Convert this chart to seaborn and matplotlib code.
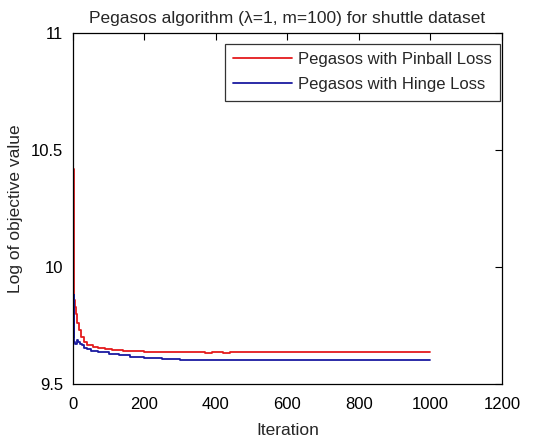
import matplotlib
matplotlib.use("Agg")
import matplotlib.pyplot as plt
import seaborn as sns
import pandas as pd

# Data (breakpoints of the step-like curves)
pinball_iter = [1, 2, 3, 4, 6, 8, 12, 16, 22, 30, 40, 55, 70, 90, 110, 140, 170, 200, 250, 300, 370, 390, 420, 440, 1000]
pinball_val = [10.42, 9.92, 9.90, 9.86, 9.83, 9.80, 9.76, 9.73, 9.70, 9.68, 9.665, 9.657, 9.652, 9.648, 9.645, 9.642, 9.640, 9.638, 9.637, 9.637, 9.633, 9.637, 9.633, 9.637, 9.637]

hinge_iter = [1, 2, 3, 4, 6, 10, 15, 20, 25, 30, 40, 50, 70, 100, 130, 160, 200, 250, 300, 330, 400, 1000]
hinge_val = [9.70, 9.88, 9.78, 9.68, 9.67, 9.69, 9.68, 9.67, 9.665, 9.655, 9.648, 9.642, 9.635, 9.628, 9.622, 9.616, 9.610, 9.606, 9.603, 9.602, 9.602, 9.602]

series_names = ["Pegasos with Pinball Loss", "Pegasos with Hinge Loss"]
series_colors = ["#e41a1c", "#1a1aa0"]

x_ticks = [0, 200, 400, 600, 800, 1000, 1200]
y_ticks = [9.5, 10, 10.5, 11]
y_tick_labels = ["9.5", "10", "10.5", "11"]

df = pd.concat([
    pd.DataFrame({"Iteration": pinball_iter, "value": pinball_val, "series": series_names[0]}),
    pd.DataFrame({"Iteration": hinge_iter, "value": hinge_val, "series": series_names[1]}),
])

sns.set_style("white")
plt.rcParams["font.family"] = ["Liberation Sans", "DejaVu Sans"]

fig = plt.figure(figsize=(5.57, 4.44), dpi=100)
ax = fig.add_axes([0.131, 0.135, 0.770, 0.791])

sns.lineplot(data=df, x="Iteration", y="value", hue="series",
             palette=dict(zip(series_names, series_colors)),
             drawstyle="steps-post", linewidth=1.3, ax=ax, estimator=None,
             legend=True)

ax.set_xlim(0, 1200)
ax.set_ylim(9.5, 11)
ax.set_xticks(x_ticks)
ax.set_xticklabels([str(t) for t in x_ticks])
ax.set_yticks(y_ticks)
ax.set_yticklabels(y_tick_labels)
ax.tick_params(direction="in", length=5, width=0.8, top=True, right=True,
               labelsize=12, colors="black")
ax.tick_params(axis="x", pad=9)
ax.tick_params(axis="y", pad=7)
for s in ax.spines.values():
    s.set_visible(True)
    s.set_color("black")
    s.set_linewidth(0.9)

ax.set_xlabel("Iteration", fontsize=12.5, labelpad=8)
ax.set_ylabel("Log of objective value", fontsize=12.5, labelpad=6)
ax.set_title("Pegasos algorithm (\u03bb=1, m=100) for shuttle dataset", fontsize=12.5, pad=7)

leg = ax.legend(loc="upper right", bbox_to_anchor=(0.9953, 0.9687),
                fontsize=12, frameon=True, fancybox=False,
                edgecolor="black", handlelength=3.5, borderpad=0.5,
                labelspacing=0.6, handletextpad=0.35, borderaxespad=0.0)
leg.get_frame().set_linewidth(0.9)
leg.set_title(None)

fig.savefig("out.png", dpi=100)
